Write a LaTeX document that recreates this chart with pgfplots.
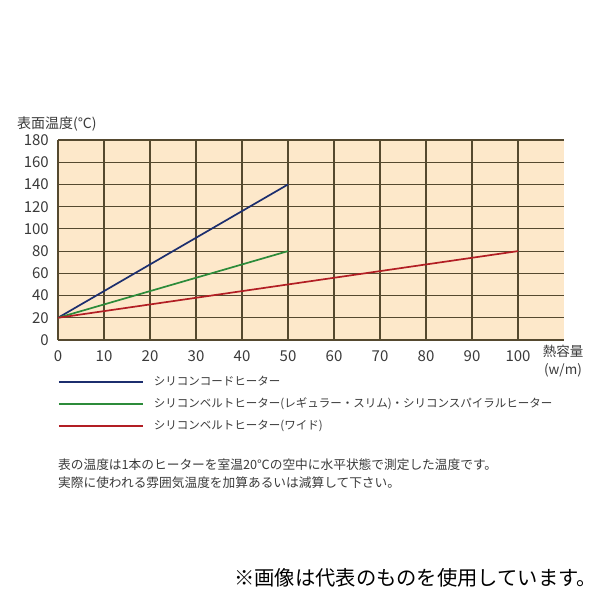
\documentclass[border=0pt]{standalone}
\usepackage{fontspec}
\setmainfont{Noto Sans CJK JP}
\usepackage{pgfplots}
\pgfplotsset{compat=1.18}
\definecolor{bgfill}{HTML}{FDE8CA}
\definecolor{gridc}{HTML}{55492F}
\definecolor{txt}{HTML}{3A3A3A}
\definecolor{navy}{HTML}{1C2E6E}
\definecolor{grn}{HTML}{2C8B3A}
\definecolor{rd}{HTML}{B21E24}
\begin{document}
\begin{tikzpicture}
\useasboundingbox (0,0) rectangle (600pt,-600pt);
\begin{axis}[
  at={(58pt,-340pt)}, anchor=south west,
  scale only axis, width=506pt, height=200pt,
  xmin=0, xmax=110, ymin=0, ymax=180,
  xtick={0,10,...,100}, ytick={0,20,...,180},
  axis x line=bottom, axis y line=left,
  axis line style={-, gridc, line width=1.1pt},
  axis background/.style={fill=bgfill},
  grid=major,
  major grid style={gridc, line width=1.1pt},
  major tick length=0pt,
  /pgf/number format/assume math mode=true,
  tick label style={font=\fontsize{15}{15}\selectfont, text=txt},
  xticklabel style={inner sep=0pt, yshift=-10pt},
  yticklabel style={inner sep=0pt, xshift=-9pt},
  title={表面温度(℃)},
  title style={at={(axis description cs:0,1)}, anchor=west, xshift=-41pt, yshift=10pt, inner sep=0pt, font=\fontsize{14}{14}\selectfont, text=txt},
  xlabel={熱容量\\(w/m)},
  xlabel style={at={(axis description cs:1,0)}, anchor=north, align=center, yshift=-5pt, xshift=-1pt, inner sep=0pt, font=\fontsize{13.5}{17.5}\selectfont, text=txt},
  legend style={at={(axis description cs:0,-0.18)}, anchor=north west, draw=none, fill=none, inner sep=0pt, outer sep=0pt, font=\fontsize{11.5}{11.5}\selectfont, text=txt, row sep=10pt, column sep=10pt, nodes={inner sep=0pt, text height=9pt, text depth=3pt}},
  legend cell align=left,
  legend image code/.code={\draw[#1, line width=1.9pt] (0pt,0pt) -- (84pt,0pt);},
  clip=false,
]
\addplot[navy, line width=1.7pt] coordinates {(0,20) (50,140)};
\addlegendentry{シリコンコードヒーター}
\addplot[grn, line width=1.7pt] coordinates {(0,20) (50,80)};
\addlegendentry{シリコンベルトヒーター(レギュラー・スリム)・シリコンスパイラルヒーター}
\addplot[rd, line width=1.7pt] coordinates {(0,20) (100,80)};
\addlegendentry{シリコンベルトヒーター(ワイド)}
\end{axis}
\node[anchor=west, inner sep=0pt, text=txt, font=\fontsize{12.7}{18}\selectfont, align=left] at (58pt,-474pt) {表の温度は1本のヒーターを室温20℃の空中に水平状態で測定した温度です。\\実際に使われる雰囲気温度を加算あるいは減算して下さい。};
\node[anchor=west, inner sep=0pt, text=black, font=\fontsize{20.3}{20.3}\selectfont] at (234pt,-578pt) {※画像は代表のものを使用しています。};
\end{tikzpicture}
\end{document}
